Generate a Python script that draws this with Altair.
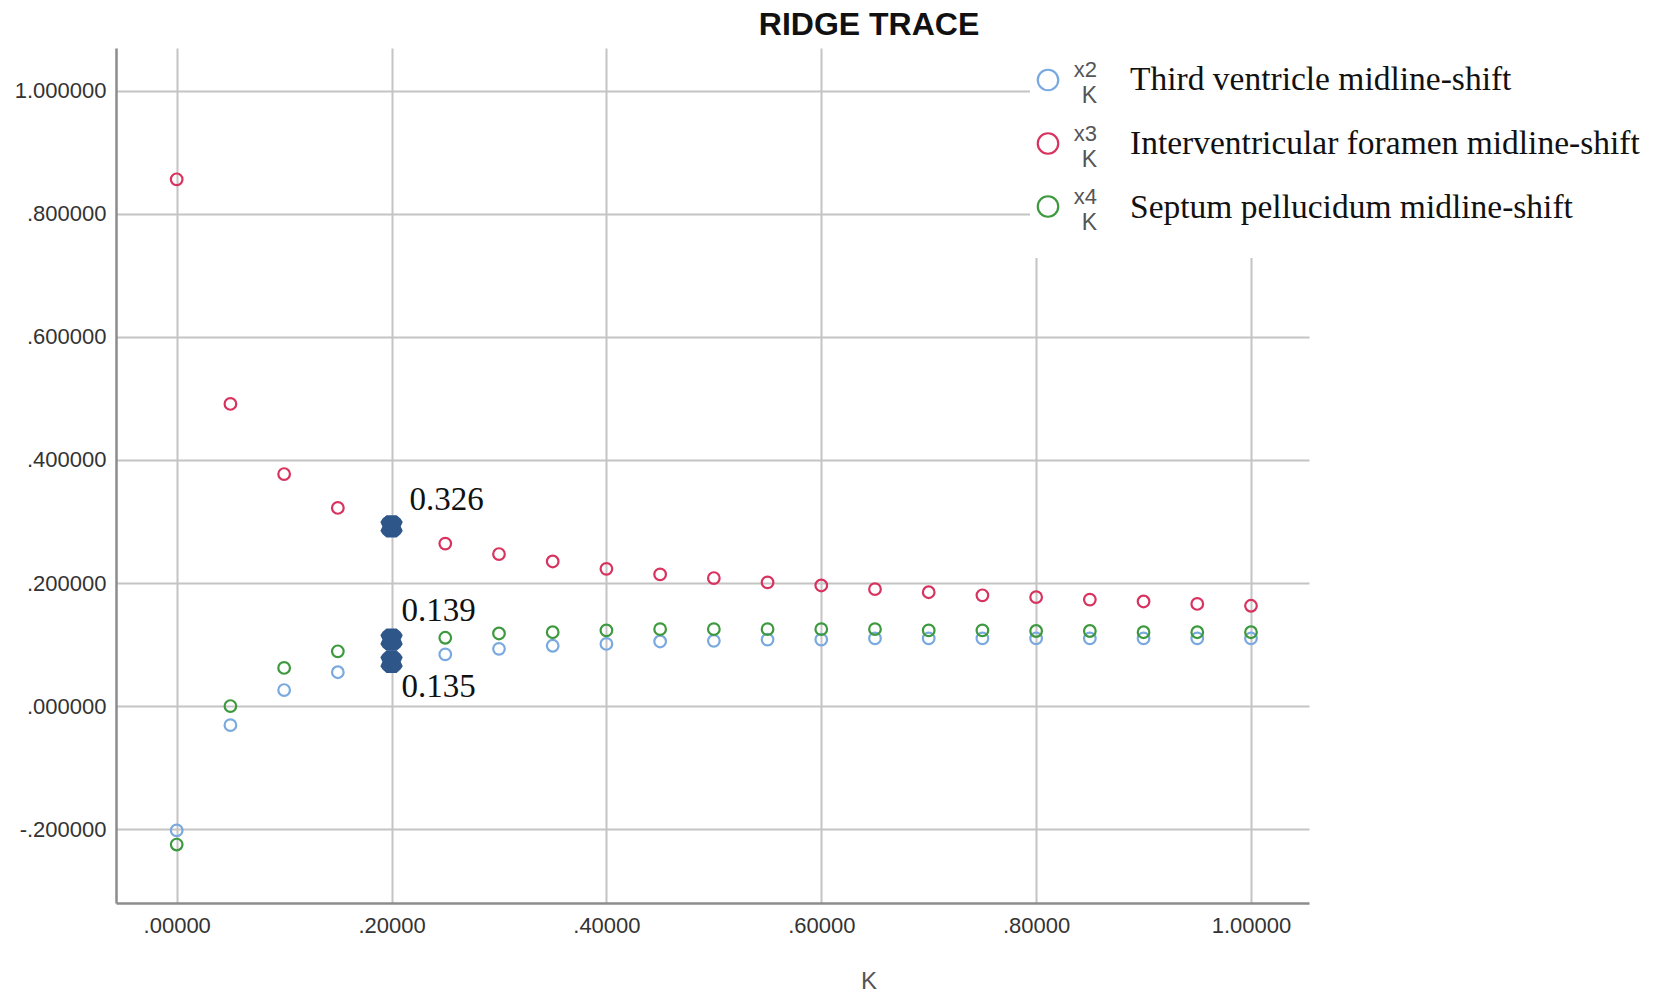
import altair as alt
import pandas as pd

# ---- data ----
k_values = [0.00, 0.05, 0.10, 0.15, 0.20, 0.25, 0.30, 0.35, 0.40, 0.45, 0.50,
            0.55, 0.60, 0.65, 0.70, 0.75, 0.80, 0.85, 0.90, 0.95, 1.00]
x2_third = [-0.202, -0.031, 0.026, 0.055, 0.072, 0.084, 0.093, 0.098, 0.101, 0.105, 0.106,
            0.108, 0.108, 0.110, 0.110, 0.110, 0.110, 0.110, 0.110, 0.110, 0.110]
x3_inter = [0.856, 0.491, 0.377, 0.322, 0.292, 0.264, 0.247, 0.235, 0.223, 0.214, 0.208,
            0.201, 0.196, 0.190, 0.185, 0.180, 0.177, 0.173, 0.170, 0.166, 0.163]
x4_septum = [-0.225, 0.000, 0.062, 0.089, 0.108, 0.111, 0.118, 0.120, 0.123, 0.125, 0.125,
             0.125, 0.125, 0.125, 0.123, 0.123, 0.122, 0.122, 0.120, 0.120, 0.120]

series_keys = ["x2", "x3", "x4"]
series_names = ["Third ventricle midline-shift",
                "Interventricular foramen midline-shift",
                "Septum pellucidum midline-shift"]
series_colors = ["#7aa9e0", "#d8325e", "#3d993d"]

chosen_k = 0.20
highlight_keys = ["x3", "x4", "x2"]
highlight_text = ["0.326", "0.139", "0.135"]

x_ticks = [0.0, 0.2, 0.4, 0.6, 0.8, 1.0]
y_ticks = [-0.2, 0.0, 0.2, 0.4, 0.6, 0.8, 1.0]

# ---- tables ----
cols = {"x2": x2_third, "x3": x3_inter, "x4": x4_septum}
rows = []
for key in series_keys:
    for kv, v in zip(k_values, cols[key]):
        rows.append({"K": kv, "value": v, "series": key})
df = pd.DataFrame(rows)

hl_rows = []
idx = k_values.index(chosen_k)
for key, txt in zip(highlight_keys, highlight_text):
    hl_rows.append({"K": chosen_k, "value": cols[key][idx], "series": key, "txt": txt})
hl = pd.DataFrame(hl_rows)

leg = pd.DataFrame({"series": series_keys, "name": series_names, "row": [0, 1, 2]})

FONT_SANS = "Liberation Sans"
FONT_SERIF = "Liberation Serif"

xscale = alt.Scale(domain=[-0.0565, 1.054], nice=False, zero=False)
yscale = alt.Scale(domain=[-0.320, 1.0694], nice=False, zero=False)
color_scale = alt.Scale(domain=series_keys, range=series_colors)

xaxis = alt.Axis(values=x_ticks, grid=True, ticks=False, title=None,
                 labelExpr="replace(replace(format(datum.value, '.5f'), '0.', '.'), '\u2212', '-')",
                 labelFont=FONT_SANS, labelFontSize=22, labelColor="#333333",
                 labelPadding=12, domainColor="#8c8c8c", domainWidth=2.5,
                 gridColor="#c4c4c4", gridWidth=2, labelFlush=False)
yaxis = alt.Axis(values=y_ticks, grid=True, ticks=False, title=None,
                 labelExpr="replace(replace(format(datum.value, '.6f'), '0.', '.'), '\u2212', '-')",
                 labelFont=FONT_SANS, labelFontSize=22, labelColor="#333333",
                 labelPadding=10, domainColor="#8c8c8c", domainWidth=2.5,
                 gridColor="#c4c4c4", gridWidth=2, labelFlush=False)

base = alt.Chart(df)

points = base.mark_point(shape="circle", filled=False, size=135, strokeWidth=2.2, opacity=1).encode(
    x=alt.X("K:Q", scale=xscale, axis=xaxis),
    y=alt.Y("value:Q", scale=yscale, axis=yaxis),
    color=alt.Color("series:N", scale=color_scale, legend=None),
)

# white legend box covering grid
legend_box = alt.Chart(pd.DataFrame({"a": [0]})).mark_rect(color="white").encode(
    x=alt.value(914), x2=alt.value(1530), y=alt.value(-40), y2=alt.value(210)
)

marker_path = ("M -0.45,-1 L 0.45,-1 L 0.8,-0.7 L 1,-0.4 L 0.82,0 L 1,0.4 L 0.8,0.7 "
               "L 0.45,1 L -0.45,1 L -0.8,0.7 L -1,0.4 L -0.82,0 L -1,-0.4 L -0.8,-0.7 Z")
hl_marks = alt.Chart(hl).mark_point(shape=marker_path, filled=True, size=500,
                                    color="#2f5688", opacity=1).encode(
    x=alt.X("K:Q", scale=xscale),
    y=alt.Y("value:Q", scale=yscale),
)

hl_dx = {"x3": 18, "x4": 10, "x2": 10}
hl_dy = {"x3": -26, "x4": -29, "x2": 25}
hl_text_layers = []
for key in highlight_keys:
    hl_text_layers.append(
        alt.Chart(hl[hl["series"] == key]).mark_text(
            align="left", baseline="middle", font=FONT_SERIF, fontSize=33,
            color="#111111", dx=hl_dx[key], dy=hl_dy[key]
        ).encode(x=alt.X("K:Q", scale=xscale), y=alt.Y("value:Q", scale=yscale), text="txt:N")
    )

# custom legend
leg_y_circle = [32, 95.5, 158.5]
leg_y_text = [32, 95.5, 160]
leg_layers = []
for i, key in enumerate(series_keys):
    sub = leg[leg["series"] == key]
    leg_layers.append(alt.Chart(sub).mark_point(shape="circle", filled=False, size=420,
                                                strokeWidth=2.2, color=series_colors[i], opacity=1).encode(
        x=alt.value(932), y=alt.value(leg_y_circle[i])))
    leg_layers.append(alt.Chart(sub).mark_text(align="right", baseline="middle", font=FONT_SANS,
                                               fontSize=22, color="#555555").encode(
        x=alt.value(981), y=alt.value(leg_y_circle[i] - 10), text=alt.value(key)))
    leg_layers.append(alt.Chart(sub).mark_text(align="right", baseline="middle", font=FONT_SANS,
                                               fontSize=23, color="#555555").encode(
        x=alt.value(981), y=alt.value(leg_y_circle[i] + 16), text=alt.value("K")))
    leg_layers.append(alt.Chart(sub).mark_text(align="left", baseline="middle", font=FONT_SERIF,
                                               fontSize=33.5, color="#111111").encode(
        x=alt.value(1014), y=alt.value(leg_y_text[i]), text="name:N"))

one = pd.DataFrame({"a": [0]})
title_mark = alt.Chart(one).mark_text(align="center", baseline="middle", font=FONT_SANS,
                                      fontSize=32, fontWeight="bold", color="#111111").encode(
    x=alt.value(753), y=alt.value(-23.5), text=alt.value("RIDGE TRACE"))
xtitle_mark = alt.Chart(one).mark_text(align="center", baseline="middle", font=FONT_SANS,
                                       fontSize=24, color="#555555").encode(
    x=alt.value(753), y=alt.value(934), text=alt.value("K"))

chart = alt.layer(points, legend_box, hl_marks, *hl_text_layers, *leg_layers,
                  title_mark, xtitle_mark).properties(
    width=1193, height=855,
    autosize=alt.AutoSizeParams(type="none"),
    padding={"left": 108, "top": 40, "right": 336, "bottom": 90},
    background="white",
).configure_view(stroke=None)

chart.save("out.html", embed_options={"renderer": "svg", "actions": False})
